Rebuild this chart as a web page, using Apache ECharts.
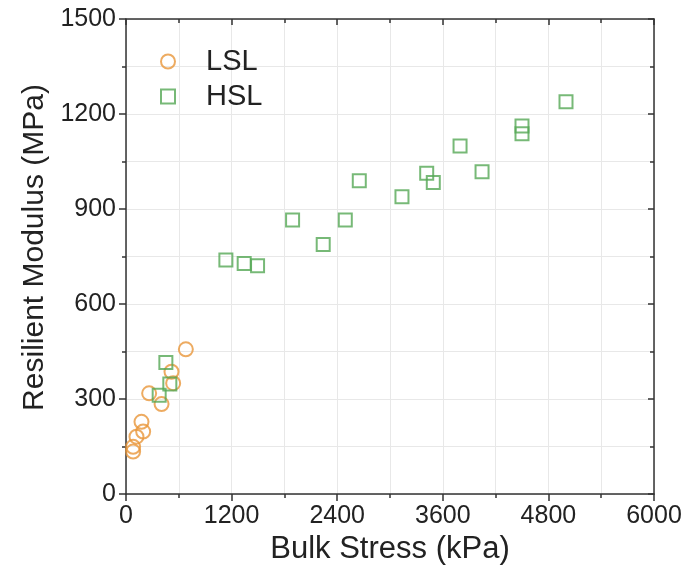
<!DOCTYPE html>
<html>
<head>
<meta charset="utf-8">
<script src="https://cdn.jsdelivr.net/npm/echarts@6/dist/echarts.min.js"></script>
<style>html,body{margin:0;padding:0;background:#fff;}#c{width:687px;height:580px;}</style>
</head>
<body>
<div id="c"></div>
<script>
var lslX = [81, 81, 119, 176, 195, 263, 404, 517, 536, 680];
var lslY = [134, 149, 181, 228, 197, 318, 284, 386, 350, 457];
var hslX = [377, 453, 498, 1135, 1343, 1495, 1893, 2241, 2492, 2651, 3136, 3417, 3492, 3796, 4046, 4500, 4500, 5000];
var hslY = [312, 415, 347, 739, 728, 721, 865, 788, 865, 989, 939, 1013, 984, 1099, 1018, 1162, 1138, 1239];
var xTicks = [0, 1200, 2400, 3600, 4800, 6000];
var yTicks = [0, 300, 600, 900, 1200, 1500];
var seriesNames = ['LSL', 'HSL'];
var xTitle = 'Bulk Stress (kPa)';
var yTitle = 'Resilient Modulus (MPa)';

function pairs(xs, ys) { return xs.map(function (x, i) { return [x, ys[i]]; }); }
var FONT = '"Liberation Sans", Arial, sans-serif';
var axisCol = '#333';
var gridCol = '#e8e8e8';
var plain = function (v) { return String(v); };

var chart = echarts.init(document.getElementById('c'), null, {renderer: 'canvas'});
chart.setOption({
  animation: false,
  backgroundColor: '#fff',
  grid: {left: 126, right: 33, top: 19, bottom: 86},
  legend: {
    orient: 'vertical', left: 160, top: 47, itemGap: 6,
    itemWidth: 14, itemHeight: 14, padding: 0,
    textStyle: {fontFamily: FONT, fontSize: 29, color: '#222', padding: [0, 0, 0, 26]},
    data: seriesNames
  },
  xAxis: [{
    type: 'value', min: xTicks[0], max: xTicks[xTicks.length - 1], interval: 1200,
    position: 'bottom',
    name: xTitle, nameLocation: 'middle', nameGap: 35,
    nameTextStyle: {fontFamily: FONT, fontSize: 31, color: '#222'},
    axisLine: {show: true, onZero: false, lineStyle: {color: axisCol, width: 1.5}},
    axisTick: {show: true, inside: false, length: 7, lineStyle: {color: axisCol, width: 1.5}},
    minorTick: {show: true, splitNumber: 2, length: 4, lineStyle: {color: axisCol, width: 1.5}},
    axisLabel: {fontFamily: FONT, fontSize: 25, color: '#222', margin: 10, formatter: plain},
    splitLine: {show: true, lineStyle: {color: gridCol, width: 1}},
    minorSplitLine: {show: true, lineStyle: {color: gridCol, width: 1}}
  }, {
    type: 'value', min: xTicks[0], max: xTicks[xTicks.length - 1], interval: 1200,
    position: 'top',
    axisLine: {show: true, onZero: false, lineStyle: {color: axisCol, width: 1.5}},
    axisTick: {show: true, inside: true, length: 6, lineStyle: {color: axisCol, width: 1.5}},
    minorTick: {show: true, splitNumber: 2, length: 4, lineStyle: {color: axisCol, width: 1.5}},
    axisLabel: {show: false},
    splitLine: {show: false}
  }],
  yAxis: [{
    type: 'value', min: yTicks[0], max: yTicks[yTicks.length - 1], interval: 300,
    position: 'left',
    name: yTitle, nameLocation: 'middle', nameGap: 70, nameRotate: 90,
    nameTextStyle: {fontFamily: FONT, fontSize: 30, color: '#222', padding: [0, 0, 0, 18]},
    axisLine: {show: true, onZero: false, lineStyle: {color: axisCol, width: 1.5}},
    axisTick: {show: true, inside: false, length: 7, lineStyle: {color: axisCol, width: 1.5}},
    minorTick: {show: true, splitNumber: 2, length: 4, lineStyle: {color: axisCol, width: 1.5}},
    axisLabel: {fontFamily: FONT, fontSize: 25, color: '#222', margin: 10, formatter: plain},
    splitLine: {show: true, lineStyle: {color: gridCol, width: 1}},
    minorSplitLine: {show: true, lineStyle: {color: gridCol, width: 1}}
  }, {
    type: 'value', min: yTicks[0], max: yTicks[yTicks.length - 1], interval: 300,
    position: 'right',
    axisLine: {show: true, onZero: false, lineStyle: {color: axisCol, width: 1.5}},
    axisTick: {show: true, inside: true, length: 6, lineStyle: {color: axisCol, width: 1.5}},
    minorTick: {show: true, splitNumber: 2, length: 4, lineStyle: {color: axisCol, width: 1.5}},
    axisLabel: {show: false},
    splitLine: {show: false}
  }],
  series: [{
    name: seriesNames[0], type: 'scatter', symbol: 'circle', symbolSize: 14,
    itemStyle: {color: 'rgba(255,255,255,0)', borderColor: '#E8963A', borderWidth: 2},
    data: pairs(lslX, lslY)
  }, {
    name: seriesNames[1], type: 'scatter', symbol: 'rect', symbolSize: 13,
    itemStyle: {color: 'rgba(255,255,255,0)', borderColor: '#55A855', borderWidth: 2},
    data: pairs(hslX, hslY)
  }]
});
</script>
</body>
</html>
